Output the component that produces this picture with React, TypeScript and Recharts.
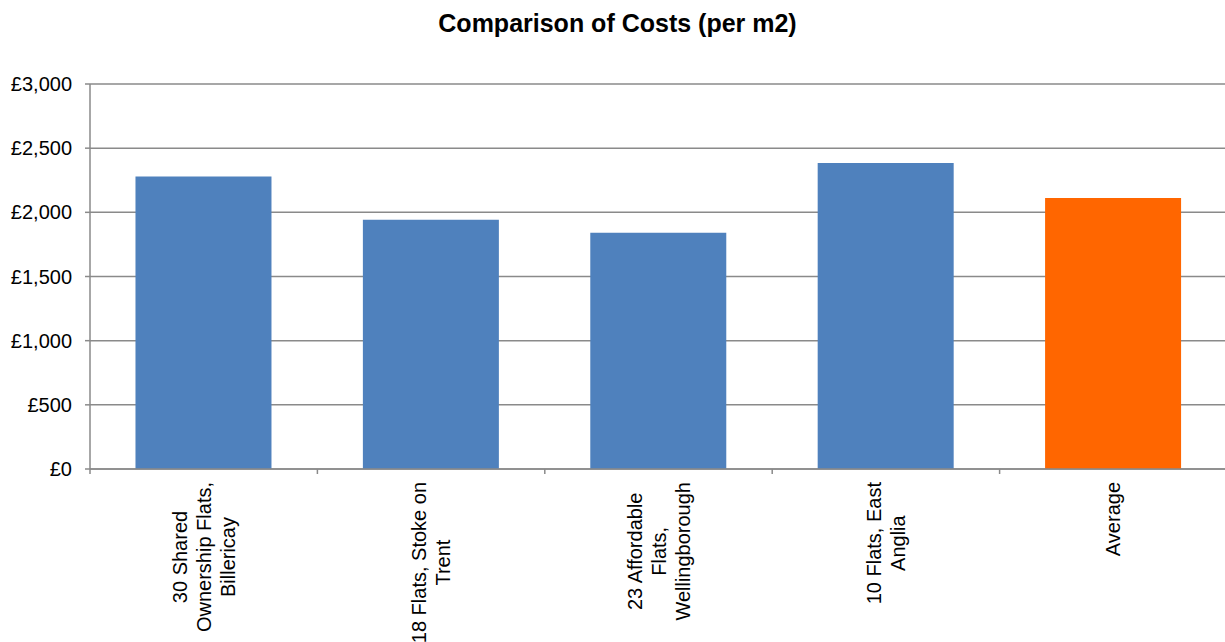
import React from 'react';
import { BarChart, Bar, XAxis, YAxis, CartesianGrid, Cell } from 'recharts';

// Cost per m2 for each scheme, plus the average of the four
const categories = [
  '30 Shared\nOwnership Flats,\nBillericay',
  '18 Flats, Stoke on\nTrent',
  '23 Affordable\nFlats,\nWellingborough',
  '10 Flats, East\nAnglia',
  'Average',
];
const costs = [2280, 1942, 1841, 2385, 2112];
const barColors = ['#4F81BD', '#4F81BD', '#4F81BD', '#4F81BD', '#FF6600'];
const yTicks = [0, 500, 1000, 1500, 2000, 2500, 3000];

const chartData = categories.map((name, i) => ({ name, cost: costs[i] }));

const WIDTH = 1225;
const HEIGHT = 642;
const MARGIN = { top: 84, right: -2, left: 0, bottom: 0 };
const Y_AXIS_WIDTH = 90;
const X_AXIS_HEIGHT = 173;
const PLOT_BOTTOM = HEIGHT - MARGIN.bottom - X_AXIS_HEIGHT;
const BAND = (WIDTH - MARGIN.right - Y_AXIS_WIDTH) / categories.length;

const FONT = '"Liberation Sans", Arial, sans-serif';
const AXIS_GRAY = '#8A8A8A';

let measureCtx: CanvasRenderingContext2D | null = null;
const textWidth = (s: string) => {
  if (!measureCtx) {
    measureCtx = document.createElement('canvas').getContext('2d');
    if (measureCtx) measureCtx.font = `20px ${FONT}`;
  }
  return measureCtx ? measureCtx.measureText(s).width : s.length * 10;
};

const formatPounds = (v: number) => `£${v.toLocaleString('en-GB')}`;

// Rotated, multi-line category labels with tick marks at band edges
const CategoryTick = (props: any) => {
  const { x, payload, index } = props;
  const lines: string[] = String(payload.value).split('\n');
  const maxW = Math.max(...lines.map(textWidth));
  const cy = PLOT_BOTTOM + 13 + maxW / 2;
  const left = x - BAND / 2;
  const right = x + BAND / 2;
  return (
    <g>
      <line x1={left} y1={PLOT_BOTTOM} x2={left} y2={PLOT_BOTTOM + 5} stroke={AXIS_GRAY} strokeWidth={1.5} />
      {index === categories.length - 1 && (
        <line x1={right} y1={PLOT_BOTTOM} x2={right} y2={PLOT_BOTTOM + 5} stroke={AXIS_GRAY} strokeWidth={1.5} />
      )}
      {lines.map((line, i) => {
        const cx = x + (i - (lines.length - 1) / 2) * 24;
        return (
          <text
            key={i}
            transform={`translate(${cx},${cy}) rotate(-90)`}
            textAnchor="middle"
            dominantBaseline="central"
            fontSize={20}
            fontFamily={FONT}
            fill="#000"
          >
            {line}
          </text>
        );
      })}
    </g>
  );
};

export default function App() {
  return (
    <div style={{ position: 'absolute', left: 0, top: 0, width: WIDTH, height: HEIGHT, background: '#fff', overflow: 'hidden' }}>
      <div
        style={{
          position: 'absolute',
          left: 0,
          top: 8,
          width: 1235,
          textAlign: 'center',
          fontFamily: FONT,
          fontWeight: 'bold',
          fontSize: 25,
          lineHeight: '30px',
          color: '#000',
        }}
      >
        Comparison of Costs (per m2)
      </div>
      <BarChart width={WIDTH} height={HEIGHT} data={chartData} margin={MARGIN} barCategoryGap="20%">
        <CartesianGrid vertical={false} stroke={AXIS_GRAY} strokeWidth={1.5} />
        <XAxis
          dataKey="name"
          interval={0}
          height={X_AXIS_HEIGHT}
          tickLine={false}
          axisLine={{ stroke: AXIS_GRAY, strokeWidth: 1.5 }}
          tick={<CategoryTick />}
        />
        <YAxis
          width={Y_AXIS_WIDTH}
          domain={[0, 3000]}
          ticks={yTicks}
          interval={0}
          tickFormatter={formatPounds}
          tickSize={5}
          tickMargin={13}
          axisLine={{ stroke: AXIS_GRAY, strokeWidth: 1.5 }}
          tickLine={{ stroke: AXIS_GRAY, strokeWidth: 1.5 }}
          tick={{ fontSize: 20, fontFamily: FONT, fill: '#000' }}
        />
        <Bar dataKey="cost" isAnimationActive={false}>
          {chartData.map((_, i) => (
            <Cell key={i} fill={barColors[i]} />
          ))}
        </Bar>
      </BarChart>
    </div>
  );
}
